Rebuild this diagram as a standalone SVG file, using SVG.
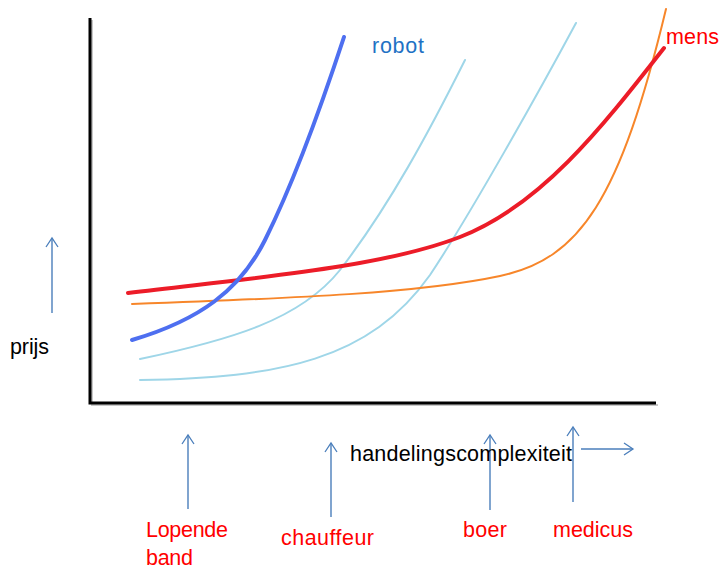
<svg xmlns="http://www.w3.org/2000/svg" width="720" height="572" viewBox="0 0 720 572">
<defs>
<marker id="open" markerWidth="12" markerHeight="14" refX="10" refY="7" orient="auto" markerUnits="userSpaceOnUse">
<path d="M1,1 L10,7 L1,13" fill="none" stroke="#4a7ebb" stroke-width="1.3"/>
</marker>
</defs>
<style>
.ax{stroke:#000;stroke-width:3;fill:none}
.sh{stroke:#c8c8c8;stroke-width:2;fill:none}
.arr{stroke:#4a7ebb;stroke-width:1.4;fill:none;marker-end:url(#open)}
.cv{fill:none;stroke-linecap:round}
.t{font-family:"Liberation Sans",Arial,sans-serif;font-size:21.5px}
.red{fill:#ff0000}
</style>
<rect width="720" height="572" fill="#fff"/>
<g id="axes">
<path class="sh" d="M92,20 V405 H658"/>
<path class="ax" d="M90,18 V403 H656"/>
</g>
<g id="curves">
<path id="c-light1" class="cv" stroke="#9fd6e8" stroke-width="2" d="M140,359 C230,340 300,320 340,270 C390,205 430,130 465,60"/>
<path id="c-light2" class="cv" stroke="#9fd6e8" stroke-width="2" d="M140,380 C280,378 370,360 430,275 C470,215 540,90 576,23"/>
<path id="c-orange" class="cv" stroke="#f7862a" stroke-width="2" d="M132,304 C300,298 420,293 500,276 C580,259 620,200 666,9"/>
<path id="c-mens" class="cv" stroke="#ec1c28" stroke-width="4" d="M128,293 C250,278 380,268 460,237 C540,206 600,130 664,48"/>
<path id="c-robot" class="cv" stroke="#4e6ff0" stroke-width="4" d="M132,340 C200,320 240,290 265,240 C290,190 320,110 344,37"/>
</g>
<g id="connectors">
<line class="arr" x1="52" y1="313" x2="52" y2="238"/>
<line class="arr" x1="188" y1="509" x2="188" y2="435"/>
<line class="arr" x1="331" y1="517" x2="331" y2="443"/>
<line class="arr" x1="490" y1="510" x2="490" y2="435"/>
<line class="arr" x1="573" y1="502" x2="573" y2="427"/>
<line class="arr" x1="581" y1="449" x2="633" y2="449"/>
</g>
<g id="labels">
<text class="t" x="10" y="354" textLength="39" fill="#000">prijs</text>
<text class="t" x="350" y="461" textLength="222" fill="#000">handelingscomplexiteit</text>
<text class="t" x="372" y="53" textLength="52" fill="#1f72c4">robot</text>
<text class="t red" x="666" y="44" textLength="53">mens</text>
<text class="t red" x="146" y="537" textLength="82">Lopende</text>
<text class="t red" x="146" y="565" textLength="47">band</text>
<text class="t red" x="281" y="545" textLength="93">chauffeur</text>
<text class="t red" x="463" y="537" textLength="44">boer</text>
<text class="t red" x="553" y="537" textLength="80">medicus</text>
</g>
</svg>
